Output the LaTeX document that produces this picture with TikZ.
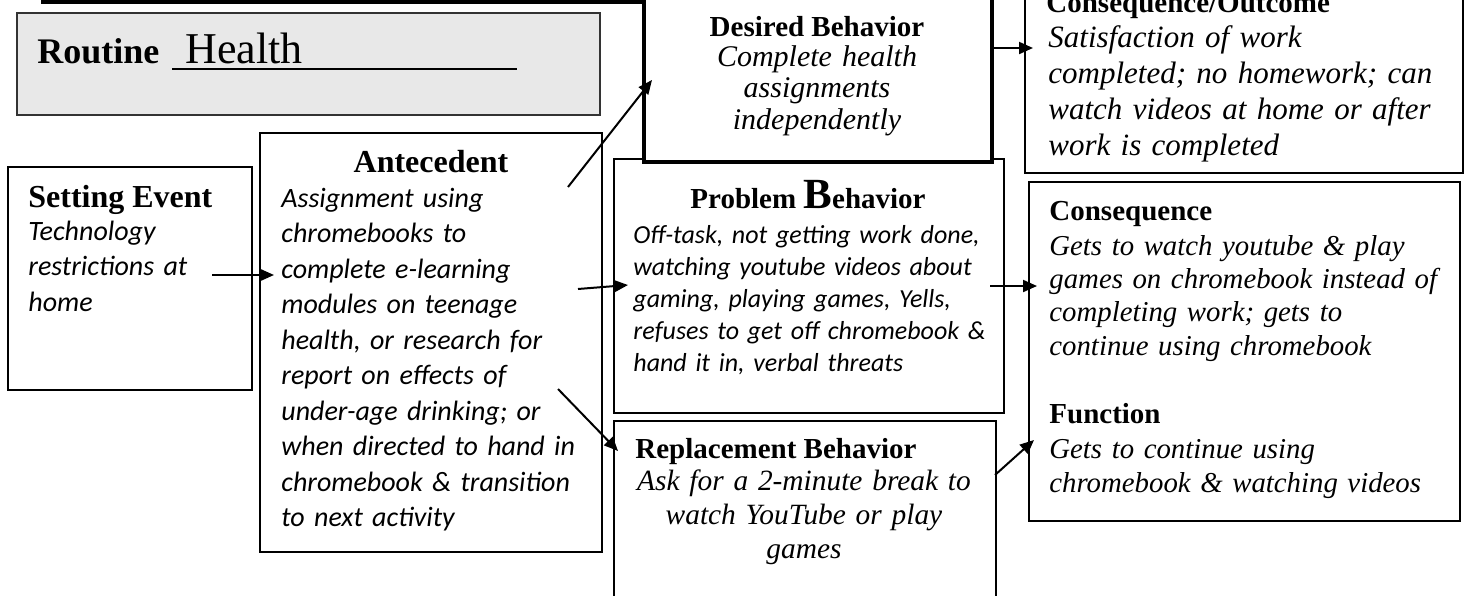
\documentclass[tikz,border=0pt]{standalone}
\usepackage{fontspec}
\setmainfont{Liberation Serif}
\newfontfamily\calfont{Carlito}
\usetikzlibrary{arrows.meta}
\tikzset{
  box/.style={draw=black, line width=1.2pt, fill=white, inner sep=0pt, outer sep=0pt, anchor=north west},
  arr/.style={line width=1pt, -{Triangle[length=7pt,width=6pt]}},
  ttl/.style={inner sep=0pt, font=\fontsize{14.5}{17}\selectfont\bfseries},
  bigttl/.style={inner sep=0pt, font=\fontsize{16}{19}\selectfont\bfseries},
  calbody/.style={inner sep=0pt, align=left, font=\fontsize{14}{17.75}\selectfont\calfont\itshape},
  timbody/.style={inner sep=0pt, font=\itshape},
}
\begin{document}
\begin{tikzpicture}[x=0.5pt,y=-0.5pt]
\useasboundingbox (0,0) rectangle (1467,595);

% top rule
\coordinate (tl) at (41,2);
\coordinate (tr) at (644,2);
\draw[line width=2pt] (tl) -- (tr);

% boxes
\node[box, draw=black!80, line width=1pt, fill=black!9, minimum width=291.5pt, minimum height=51pt] (routine) at (17,13) {};
\node[box, minimum width=122pt, minimum height=111.5pt] (setting) at (8,167) {};
\node[box, minimum width=171pt, minimum height=209.5pt] (ante) at (260,133) {};
\node[box, minimum width=195pt, minimum height=127pt] (prob) at (614,159) {};
\node[box, line width=1.6pt, minimum width=174pt, minimum height=91pt] (desired) at (644,-20) {};
\node[box, minimum width=219pt, minimum height=96.5pt] (outcome) at (1025,-20) {};
\node[box, minimum width=215.5pt, minimum height=169.5pt] (conseq) at (1029,182) {};
\node[box, minimum width=191pt, minimum height=100pt] (repl) at (614,421) {};

% Routine
\node[inner sep=0pt, anchor=base west, font=\fontsize{18}{21}\selectfont\bfseries] (rtA) at (37,63) {Routine};
\node[inner sep=0pt, anchor=base west, font=\fontsize{22}{26}\selectfont] (rtB) at (185,63) {Health};
\coordinate (ul1) at (172,69);
\coordinate (ul2) at (517,69);
\draw[line width=1pt] (ul1) -- (ul2);

% Setting event
\node[bigttl, anchor=base west] (setT) at (28,207) {Setting Event};
\node[calbody, text width=115pt, anchor=base west] (setB) at (28,240) {Technology\\restrictions at\\home};

% Antecedent
\node[bigttl, anchor=base] (anteT) at (431,172) {Antecedent};
\node[calbody, text width=165pt, anchor=base west] (anteB) at (281,207) {Assignment using\\chromebooks to\\complete e-learning\\modules on teenage\\health, or research for\\report on effects of\\under-age drinking; or\\when directed to hand in\\chromebook \& transition\\to next activity};

% Desired
\node[ttl, anchor=base] (desT) at (817,36) {Desired Behavior};
\node[timbody, text width=170pt, align=center, anchor=base, font=\fontsize{15}{15.75}\selectfont\itshape] (desB) at (817,66) {Complete health\\assignments\\independently};

% Outcome
\node[ttl, anchor=base west] (outT) at (1046,12) {Consequence/Outcome};
\node[timbody, text width=210pt, align=left, anchor=base west, font=\fontsize{15.5}{18}\selectfont\itshape] (outB) at (1048,47) {Satisfaction of work\\completed; no homework; can\\watch videos at home or after\\work is completed};

% Problem
\node[ttl, anchor=base] (probT) at (808,208) {Problem {\fontsize{21.5}{24}\selectfont B}ehavior};
\node[calbody, text width=190pt, anchor=base west, font=\fontsize{13}{16}\selectfont\calfont\itshape] (probB) at (633,243) {Off-task, not getting work done,\\watching youtube videos about\\gaming, playing games, Yells,\\refuses to get off chromebook \&\\hand it in, verbal threats};

% Consequence & Function
\node[ttl, anchor=base west] (conT) at (1049,220) {Consequence};
\node[timbody, text width=205pt, align=left, anchor=base west, font=\fontsize{14.4}{16.7}\selectfont\itshape] (conB) at (1049,255) {Gets to watch youtube \& play\\games on chromebook instead of\\completing work; gets to\\continue using chromebook};
\node[ttl, anchor=base west] (funT) at (1049,423) {Function};
\node[timbody, text width=205pt, align=left, anchor=base west, font=\fontsize{14.4}{17}\selectfont\itshape] (funB) at (1049,458) {Gets to continue using\\chromebook \& watching videos};

% Replacement
\node[ttl, anchor=base west] (repT) at (635,458) {Replacement Behavior};
\node[timbody, text width=185pt, align=center, anchor=base, font=\fontsize{14.7}{17}\selectfont\itshape] (repB) at (804,490) {Ask for a 2-minute break to\\watch YouTube or play\\games};

% arrow end points
\coordinate (s1) at (212,275);  \coordinate (e1) at (274,275);
\coordinate (s2) at (568,187);  \coordinate (e2) at (652,80);
\coordinate (s3) at (578,289);  \coordinate (e3) at (628,285);
\coordinate (s4) at (558,389);  \coordinate (e4) at (618,451);
\coordinate (s5) at (992,48);   \coordinate (e5) at (1033,48);
\coordinate (s6) at (990,286);  \coordinate (e6) at (1037,286);
\coordinate (s7) at (995,475);  \coordinate (e7) at (1034,440);

\draw[arr] (s1) -- (e1);
\draw[arr] (s2) -- (e2);
\draw[arr] (s3) -- (e3);
\draw[arr] (s4) -- (e4);
\draw[arr] (s5) -- (e5);
\draw[arr] (s6) -- (e6);
\draw[arr] (s7) -- (e7);
\end{tikzpicture}
\end{document}
